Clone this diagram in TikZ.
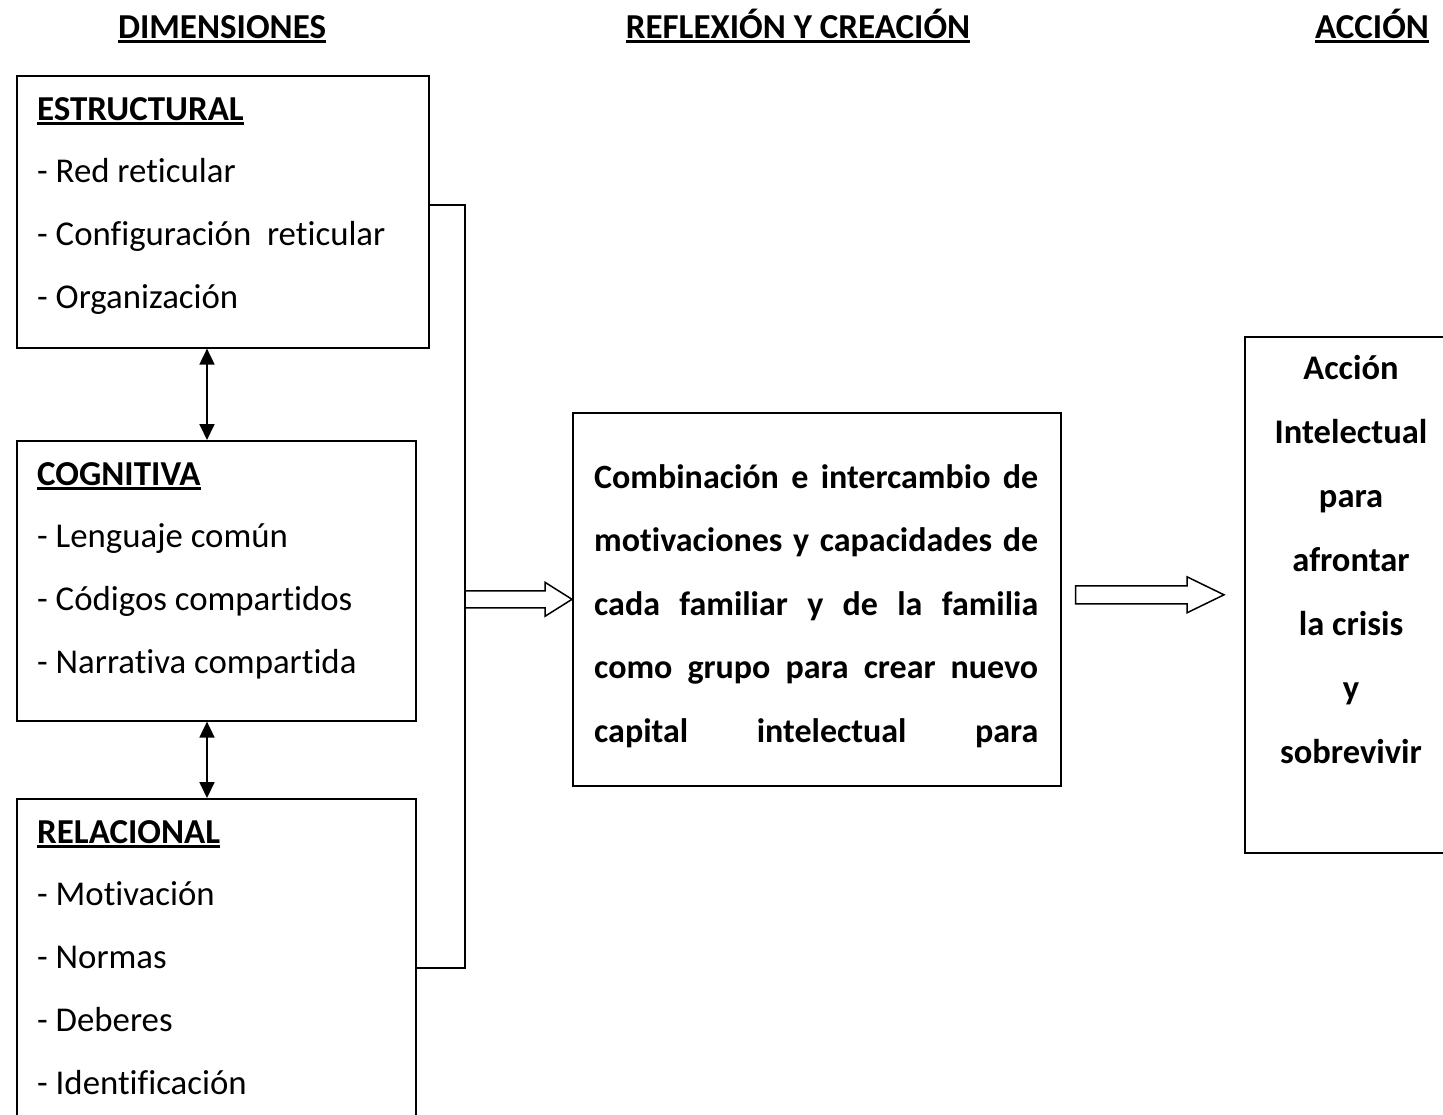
\documentclass[tikz,border=0pt]{standalone}
\usepackage{fontspec}
\setmainfont{Carlito}[Ligatures=NoCommon]
\usetikzlibrary{arrows.meta,calc}
\newcommand\thickul[1]{\setbox0\hbox{#1}\rlap{\rule[-4.5pt]{\wd0}{2.2pt}}\box0}

\tikzset{
  dimbox/.style={draw, line width=1.6pt, anchor=north west, inner sep=0pt},
  colhead/.style={anchor=base, inner sep=0pt, font=\fontsize{35}{40}\selectfont\bfseries},
  boxtitle/.style={anchor=base west, inner sep=0pt, font=\fontsize{35}{40}\selectfont\bfseries},
  item/.style={anchor=base west, inner sep=0pt, font=\fontsize{34.8}{40}\selectfont},
  midline/.style={anchor=base west, inner sep=0pt, font=\fontsize{34}{40}\selectfont\bfseries},
  actline/.style={anchor=base, inner sep=0pt, font=\fontsize{34.5}{40}\selectfont\bfseries},
  dbl/.style={line width=1.8pt, {Triangle[width=15pt,length=16pt]}-{Triangle[width=15pt,length=16pt]}},
  hollow/.style={line width=1.5pt, fill=white, line join=miter},
}

\begin{document}
\begin{tikzpicture}[x=1pt,y=-1pt]
    \clip (0,0) rectangle (1443,1114);
    % column headings
    \node[colhead] (h1) at (222,38) {\thickul{DIMENSIONES}};
    \node[colhead] (h2) at (798,38) {\thickul{REFLEXIÓN Y CREACIÓN}};
    \node[colhead] (h3) at (1372,38) {\thickul{ACCIÓN}};
    % dimension boxes
    \node[dimbox, minimum width=412pt, minimum height=272pt] (est) at (16,75) {};
    \node[dimbox, minimum width=399pt, minimum height=280pt] (cog) at (16,440) {};
    \node[dimbox, minimum width=399pt, minimum height=360pt] (rel) at (16,798) {};
    \node[boxtitle] (estT) at (37,120) {\thickul{ESTRUCTURAL}};
    \foreach \txt [count=\i] in {Red reticular, Configuración\ \ reticular, Organización}
      \node[item] (est\i) at (37,119+63*\i) {- \txt};
    \node[boxtitle] (cogT) at (37,485) {\thickul{COGNITIVA}};
    \foreach \txt [count=\i] in {Lenguaje común, Códigos compartidos, Narrativa compartida}
      \node[item] (cog\i) at (37,484+63*\i) {- \txt};
    \node[boxtitle] (relT) at (37,843) {\thickul{RELACIONAL}};
    \foreach \txt [count=\i] in {Motivación, Normas, Deberes, Identificación}
      \node[item] (rel\i) at (37,842+63*\i) {- \txt};
    % links between dimensions
    \coordinate (ax) at (207,0);
    \draw[dbl] (est.south -| ax) -- (cog.north -| ax);
    \draw[dbl] (cog.south -| ax) -- (rel.north -| ax);
    % bracket
    \coordinate (b1) at (465,205);
    \coordinate (b2) at (465,968);
    \draw[line width=1.5pt] (est.east |- b1) -- (b1) -- (b2) -- (rel.east |- b2);
    % reflection box
    \node[dimbox, minimum width=488pt, minimum height=373pt] (mid) at (572,412) {};
    \foreach \txt [count=\i] in {Combinación e intercambio de, motivaciones y capacidades de,
        cada familiar y de la familia, como grupo para crear nuevo, capital intelectual para}
      \node[midline] (mid\i) at (594,488+63.5*\i-63.5) {\makebox[444pt][s]{\txt}};
    % action box
    \node[dimbox, minimum width=240pt, minimum height=516pt] (act) at (1244,336) {};
    \foreach \txt [count=\i] in {Acción, Intelectual, para, afrontar, la crisis, y, sobrevivir}
      \node[actline] (act\i) at (1351,379+64*\i-64) {\txt};
    % hollow arrows
    \draw[hollow] ($(b1 |- mid.west)+(0,-8.5)$) -- ($(mid.west)+(-27,-8.5)$)
      -- ($(mid.west)+(-27,-17)$) -- (mid.west) -- ($(mid.west)+(-27,17)$)
      -- ($(mid.west)+(-27,8.5)$) -- ($(b1 |- mid.west)+(0,8.5)$) -- cycle;
    \draw[hollow] ($(mid.east |- act.west)+(14,-9)$) -- ($(act.west)+(-57,-9)$)
      -- ($(act.west)+(-57,-18)$) -- ($(act.west)+(-20,0)$) -- ($(act.west)+(-57,18)$)
      -- ($(act.west)+(-57,9)$) -- ($(mid.east |- act.west)+(14,9)$) -- cycle;
\end{tikzpicture}
\end{document}
